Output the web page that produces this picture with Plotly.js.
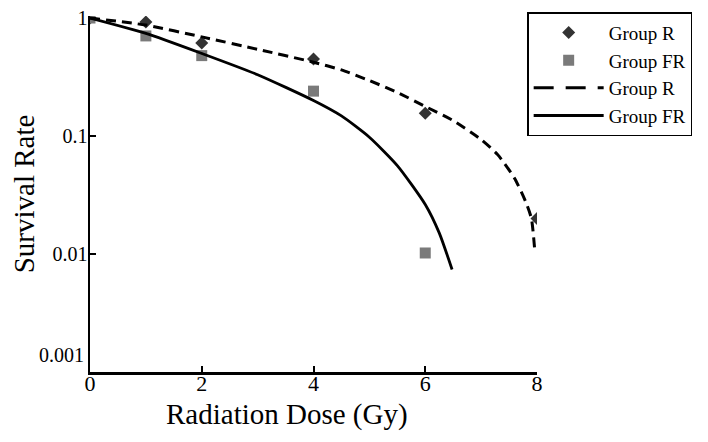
<!DOCTYPE html>
<html>
<head>
<meta charset="utf-8">
<script src="https://cdn.plot.ly/plotly-3.0.1.min.js"></script>
<style>html,body{margin:0;padding:0;background:#fff;}#chart{width:708px;height:442px;}</style>
</head>
<body>
<div id="chart"></div>
<script>
// Measured points
const doseR = [0, 1, 2, 4, 6, 8];
const survR = [1, 0.925, 0.615, 0.45, 0.156, 0.02];
const doseFR = [0, 1, 2, 4, 6];
const survFR = [1, 0.705, 0.48, 0.24, 0.0102];

// Fitted curves
const fitDoseR = [0, 1, 2, 3, 4, 4.5, 5, 5.5, 6, 6.5, 7, 7.3, 7.6, 7.8, 7.9, 7.96];
const fitSurvR = [1, 0.871, 0.692, 0.543, 0.422, 0.363, 0.295, 0.234, 0.178, 0.135, 0.0933, 0.0692, 0.0437, 0.0275, 0.020, 0.0107];
const fitDoseFR = [0, 1, 2, 3, 4, 4.5, 5, 5.5, 6, 6.25, 6.48];
const fitSurvFR = [1, 0.741, 0.501, 0.331, 0.20, 0.148, 0.0977, 0.0562, 0.0263, 0.0151, 0.0074];

const xTickVals = [0, 2, 4, 6, 8];
const yTickVals = [0.01, 0.1, 1];
const yTickText = ['0.01', '0.1', '1'];
const yBottomLabel = '0.001';
const legendNames = ['Group R', 'Group FR', 'Group R', 'Group FR'];

const serif = 'Liberation Serif, Times New Roman, serif';

const traces = [
  {x: doseR, y: survR, type: 'scatter', mode: 'markers', name: legendNames[0],
   marker: {symbol: 'diamond', size: 10, color: '#333333'}},
  {x: doseFR, y: survFR, type: 'scatter', mode: 'markers', name: legendNames[1],
   marker: {symbol: 'square', size: 11, color: '#7a7a7a'}},
  {x: fitDoseR, y: fitSurvR, type: 'scatter', mode: 'lines', name: legendNames[2], showlegend: false,
   line: {color: '#000', width: 3, dash: '10px,6px', shape: 'spline', smoothing: 0.6}},
  {x: fitDoseFR, y: fitSurvFR, type: 'scatter', mode: 'lines', name: legendNames[3], showlegend: false,
   line: {color: '#000', width: 2.8, shape: 'spline', smoothing: 0.6}},
  // legend-only entries (legend shows long dashes)
  {x: [null], y: [null], type: 'scatter', mode: 'lines', name: legendNames[2],
   line: {color: '#000', width: 3, dash: '20px,12px'}},
  {x: [null], y: [null], type: 'scatter', mode: 'lines', name: legendNames[3],
   line: {color: '#000', width: 3}}
];

const layout = {
  width: 708, height: 442,
  margin: {l: 90, r: 171, t: 14, b: 70},
  paper_bgcolor: '#fff', plot_bgcolor: '#fff',
  font: {family: serif, color: '#000'},
  showlegend: true,
  legend: {
    x: 0.978, y: 1.011, xanchor: 'left', yanchor: 'top',
    bordercolor: '#000', borderwidth: 1.5, bgcolor: '#fff',
    font: {family: serif, size: 19, color: '#000'},
    itemwidth: 70, tracegroupgap: 0
  },
  xaxis: {
    range: [0, 8], tickvals: xTickVals, ticktext: xTickVals.map(String),
    showgrid: false, zeroline: false, showline: true, linecolor: '#000', linewidth: 2.5,
    ticks: 'inside', ticklen: 6, tickwidth: 2, tickcolor: '#000',
    ticklabelstandoff: -10,
    tickfont: {family: serif, size: 22, color: '#000'}
  },
  yaxis: {
    type: 'log', range: [-3, Math.log10(1.04)],
    tickvals: yTickVals, ticktext: yTickText,
    showgrid: false, zeroline: false, showline: true, linecolor: '#000', linewidth: 2.5,
    ticks: 'inside', ticklen: 6, tickwidth: 2, tickcolor: '#000',
    ticklabelstandoff: -4,
    tickfont: {family: serif, size: 20, color: '#000'},
    title: {text: 'Survival Rate', font: {family: serif, size: 29, color: '#000'}, standoff: 10}
  },
  annotations: [
    {text: yBottomLabel, xref: 'paper', yref: 'y', x: 0, y: -3, xanchor: 'right', yanchor: 'middle',
     xshift: -4, yshift: 17, showarrow: false, font: {family: serif, size: 20, color: '#000'}},
    {text: 'Radiation Dose (Gy)', xref: 'paper', yref: 'paper', x: 0.441, y: 0, xanchor: 'center', yanchor: 'middle',
     yshift: -42, showarrow: false, font: {family: serif, size: 29, color: '#000'}}
  ]
};

Plotly.newPlot('chart', traces, layout, {displayModeBar: false, staticPlot: true});
</script>
</body>
</html>
